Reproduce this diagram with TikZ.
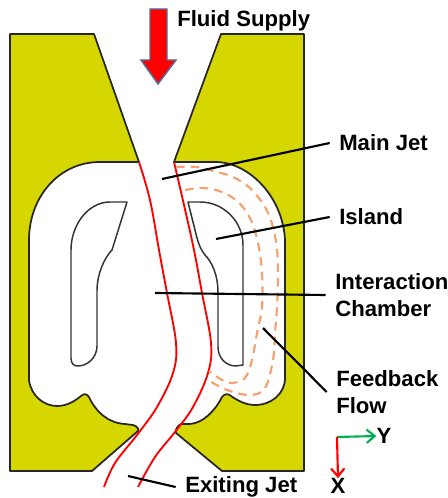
\documentclass[tikz,border=0pt]{standalone}
\usepackage{fontspec}
\setmainfont{Liberation Sans}
\usetikzlibrary{arrows.meta,positioning}
\definecolor{olive}{RGB}{214,214,0}
\definecolor{steel}{RGB}{80,110,155}
\definecolor{peach}{RGB}{245,160,110}
\definecolor{jetgreen}{RGB}{0,176,80}
\tikzset{
  wall/.style={draw=black!85,fill=olive,line width=1.3pt,line join=round},
  isle/.style={draw=black!80,line width=1.1pt,line join=round},
  jet/.style={draw=red,line width=1.4pt},
  feedback/.style={draw=peach,line width=1.6pt,dash pattern=on 6.5pt off 4.5pt},
  leader/.style={draw=black,line width=1.6pt},
  tag/.style={font=\bfseries\fontsize{16.6}{20}\selectfont,inner sep=0pt,align=left},
  axis/.style={-{Straight Barb[length=6pt,width=10pt,line width=1.6pt]},line width=1.6pt}
}
\begin{document}
\begin{tikzpicture}[x=0.75pt,y=-0.75pt]
    \useasboundingbox (0,0) rectangle (447,498);
    % walls
    \path[wall] (10,34) -- (94,34) -- (139,162) -- (100,162)
      .. controls (58,162) and (29,198) .. (29,240) -- (29,380)
      .. controls (31,396) and (44,406) .. (57,406)
      .. controls (68,406) and (76,400) .. (81,396)
      .. controls (84,393) and (87,394) .. (89,397)
      .. controls (96,412) and (108,423) .. (125,424)
      -- (133,425) .. controls (137,426) and (139,429) .. (138,431)
      -- (92,471) -- (10,471) -- cycle;
    \path[wall] (221,34) -- (304,34) -- (304,471) -- (222,471) -- (176,433)
      .. controls (175,430) and (177,426) .. (181,424) -- (190,424)
      .. controls (203,423) and (215,411) .. (222,397)
      .. controls (224,394) and (228,393) .. (231,396)
      .. controls (237,400) and (245,405) .. (255,405)
      .. controls (271,405) and (285,394) .. (285,378) -- (285,240)
      .. controls (283,198) and (250,162) .. (215,162) -- (174,162) -- cycle;
    % islands
    \draw[isle] (127,202) -- (110,202) .. controls (88,202) and (71,225) .. (71,250)
      -- (71,358) .. controls (71,364) and (74,366) .. (78,366)
      .. controls (87,366) and (97,358) .. (97,346) -- (97,290)
      .. controls (97,275) and (104,258) .. (112,250) -- cycle;
    \draw[isle] (188,202) -- (200,202) .. controls (224,202) and (243,222) .. (243,245)
      -- (243,365) -- (236,366) .. controls (226,366) and (218,358) .. (218,347) -- (218,293)
      .. controls (218,275) and (212,262) .. (205,255)
      .. controls (201,250) and (199,245) .. (197,238) -- cycle;
    % jet edges
    \draw[jet] plot[smooth,tension=0.6] coordinates {(139,162) (150,200) (159,250) (167,293) (176,343) (173,373) (157,407) (137,435) (115,463) (104,487)};
    \draw[jet] plot[smooth,tension=0.6] coordinates {(174,162) (184,205) (194,250) (202,293) (211,343) (208,373) (193,407) (175,432) (155,457) (138,487)};
    % feedback flow
    \draw[feedback] plot[smooth,tension=0.6] coordinates {(176,167) (197,167) (217,172) (233,177) (250,188) (265,207) (273,227) (277,250) (278,277) (277,307) (275,333) (273,360) (265,388) (250,395) (227,390) (208,380)};
    \draw[feedback] plot[smooth,tension=0.6] coordinates {(185,190) (203,188) (222,192) (238,202) (250,218) (258,243) (262,273) (262,307) (257,333) (252,360) (245,378) (232,383) (222,380) (209,371)};
    % labels and leaders
    \node[tag,anchor=west] (fluid) at (177,21) {Fluid Supply};
    \foreach \n/\t/\x/\y/\a/\b in {
      mainjet/Main Jet/339/143/162/179,
      island/Island/339/217/216/239,
      chamber/{Interaction\\Chamber}/335/295/155/293,
      flow/{Feedback\\Flow}/336/392/263/328,
      exitjet/Exiting Jet/185/487/128/476}
    {
      \node[tag,anchor=west] (\n) at (\x,\y) {\t};
      \coordinate (\n end) at (\a,\b);
      \draw[leader] (\n end) -- ([xshift=-7pt]\n.west);
    }
    % supply arrow
    \draw[draw=steel,fill=red,line width=1.1pt,line join=miter] (150,9) -- (167,9) -- (167,60) -- (176,60)
      -- (158,84) -- (141,60) -- (150,60) -- cycle;
    % axes
    \coordinate (origin) at (337,437);
    \node[tag,inner sep=0pt] (ylabel) at (384,436) {Y};
    \node[tag,inner sep=0pt] (xlabel) at (338,486) {X};
    \draw[axis,jetgreen] (origin) -- (ylabel.west);
    \draw[axis,red] (origin) -- (xlabel.north);
  \end{tikzpicture}
\end{document}
